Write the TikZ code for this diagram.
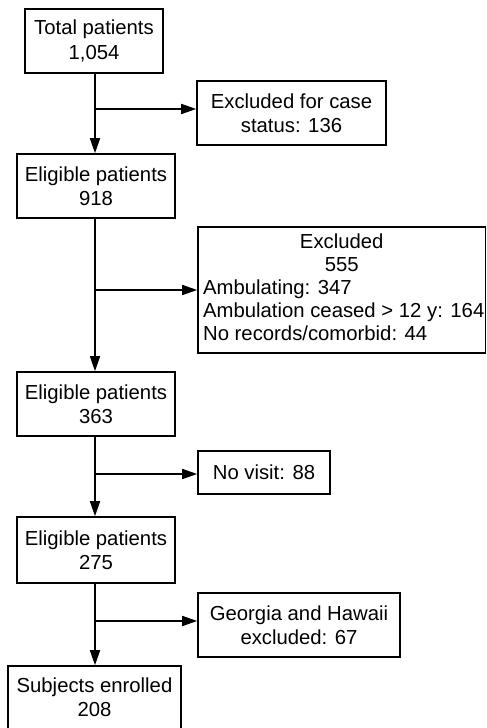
\documentclass[tikz,border=0pt]{standalone}
\usepackage{fontspec}
\setmainfont{Liberation Sans}
\usetikzlibrary{arrows.meta}
\begin{document}
\begin{tikzpicture}[x=1pt,y=-1pt,
  box/.style={draw, line width=1.6pt, inner sep=0pt, align=center, font=\fontsize{20.3}{24.5}\selectfont},
  txt/.style={inner sep=0pt, align=center, font=\fontsize{20.3}{24.5}\selectfont},
  flow/.style={line width=1.6pt, -{Triangle[length=15pt,width=10pt]}}]
\useasboundingbox (0,0) rectangle (487,728);
\clip (0,0) rectangle (487,728);

\node[box, minimum width=138pt, minimum height=64pt] (total) at (94,41) {Total patients\\1,054};
\node[box, minimum width=189pt, minimum height=64pt] (exc1) at (291.5,113) {Excluded for case\\status: 136};
\node[box, minimum width=158pt, minimum height=64pt] (e918) at (96,186) {Eligible patients\\918};
\node[box, minimum width=287.5pt, minimum height=126pt, font=\fontsize{20.3}{23}\selectfont] (exc2) at (341.75,290)
  {\begin{tabular}{@{\hspace{4pt}}l@{}}\multicolumn{1}{@{}c@{}}{Excluded}\\\multicolumn{1}{@{}c@{}}{555}\\Ambulating: 347\\Ambulation ceased > 12 y: 164\\No records/comorbid: 44\end{tabular}};
\node[box, minimum width=158pt, minimum height=64pt] (e363) at (96,404) {Eligible patients\\363};
\node[box, minimum width=132pt, minimum height=43pt] (novisit) at (264,472.5) {No visit: 88};
\node[box, minimum width=158pt, minimum height=66pt] (e275) at (96,550) {Eligible patients\\275};
\node[box, minimum width=202pt, minimum height=64pt] (georgia) at (299,625) {Georgia and Hawaii\\excluded: 67};
\node[box, minimum width=173pt, minimum height=74pt] (subj) at (94.5,703) {};
\node[txt] (subjtext) at (94.5,697) {Subjects enrolled\\208};

\coordinate (trunk) at (95,0);
\coordinate (b1) at (95,109);
\coordinate (b2) at (95,290);
\coordinate (b3) at (95,474);
\coordinate (b4) at (95,621);

\draw[flow] (total.south -| trunk) -- (e918.north -| trunk);
\draw[flow] (e918.south -| trunk) -- (e363.north -| trunk);
\draw[flow] (e363.south -| trunk) -- (e275.north -| trunk);
\draw[flow] (e275.south -| trunk) -- (subj.north -| trunk);

\draw[flow] (b1) -- (b1 -| exc1.west);
\draw[flow] (b2) -- (b2 -| exc2.west);
\draw[flow] (b3) -- (b3 -| novisit.west);
\draw[flow] (b4) -- (b4 -| georgia.west);
\end{tikzpicture}
\end{document}
